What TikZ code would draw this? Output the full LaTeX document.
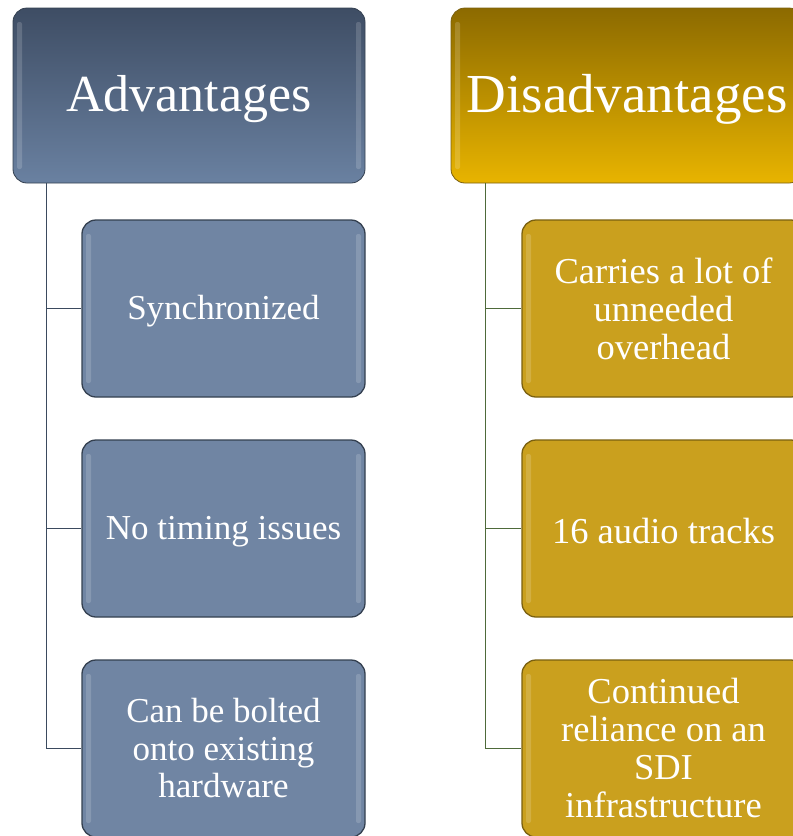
\documentclass[tikz,border=0pt]{standalone}
\usepackage{fontspec}
\setmainfont{Liberation Serif}

\definecolor{advTop}{RGB}{62,77,100}
\definecolor{advBot}{RGB}{106,129,161}
\definecolor{advChild}{RGB}{112,133,163}
\definecolor{advEdge}{RGB}{52,64,80}
\definecolor{advLine}{RGB}{59,74,94}
\definecolor{disTop}{RGB}{140,106,0}
\definecolor{disBot}{RGB}{232,180,0}
\definecolor{disChild}{RGB}{202,160,30}
\definecolor{disEdge}{RGB}{122,96,16}
\definecolor{disLine}{RGB}{78,106,58}

% lower a one-line label without changing the node's size
\newcommand{\lowered}[2]{\raisebox{-#1}[\height][\depth]{#2}}

\tikzset{
  x=1pt, y=-1pt,
  gloss/.style={
    path picture={
      \fill[white,opacity=0.16,rounded corners=2pt]
        ([xshift=4pt,yshift=-14pt]path picture bounding box.north west)
        rectangle ([xshift=9pt,yshift=14pt]path picture bounding box.south west);
      \fill[white,opacity=0.16,rounded corners=2pt]
        ([xshift=-9pt,yshift=-14pt]path picture bounding box.north east)
        rectangle ([xshift=-4pt,yshift=14pt]path picture bounding box.south east);
    }},
  headbox/.style={
    rounded corners=14pt, minimum width=352pt, minimum height=175pt,
    text=white, inner sep=0pt, gloss},
  advhead/.style={headbox, draw=advEdge, line width=0.8pt,
    top color=advTop, bottom color=advBot, font=\fontsize{52}{56}\selectfont},
  dishead/.style={headbox, draw=disEdge, line width=0.8pt,
    top color=disTop, bottom color=disBot, font=\fontsize{55}{58}\selectfont},
  itembox/.style={
    rounded corners=14pt, minimum width=283pt, minimum height=177pt,
    text=white, align=center, inner sep=0pt,
    line width=1.3pt, gloss},
  advitem/.style={itembox, draw=advEdge, fill=advChild,
    font=\fontsize{35}{37.5}\selectfont},
  disitem/.style={itembox, draw=disEdge, fill=disChild,
    font=\fontsize{36.5}{38}\selectfont},
  advconn/.style={draw=advLine, line width=1.2pt},
  disconn/.style={draw=disLine, line width=1.2pt},
}

\begin{document}
\begin{tikzpicture}
\useasboundingbox (0,0) rectangle (793,836);

% column headers
\node[advhead] (adv) at (189,95.5) {\lowered{4pt}{Advantages}};
\node[dishead] (dis) at (627,95.5) {\lowered{4pt}{Disadvantages}};

% advantages
\node[advitem] (a1) at (223.5,308.5) {\lowered{3pt}{Synchronized}};
\node[advitem] (a2) at (223.5,528.5) {\lowered{3pt}{No timing issues}};
\node[advitem] (a3) at (223.5,748.5) {Can be bolted\\onto existing\\hardware};

% disadvantages
\node[disitem] (d1) at (663.5,308.5) {Carries a lot of\\unneeded\\overhead};
\node[disitem] (d2) at (663.5,528.5) {\lowered{3pt}{16 audio tracks}};
\node[disitem] (d3) at (663.5,748.5) {Continued\\reliance on an\\SDI\\infrastructure};

% tree connectors
\foreach \c in {a1,a2,a3}
  \draw[advconn] ([xshift=34pt]adv.south west) |- (\c.west);
\foreach \c in {d1,d2,d3}
  \draw[disconn] ([xshift=35pt]dis.south west) |- (\c.west);
\end{tikzpicture}
\end{document}
